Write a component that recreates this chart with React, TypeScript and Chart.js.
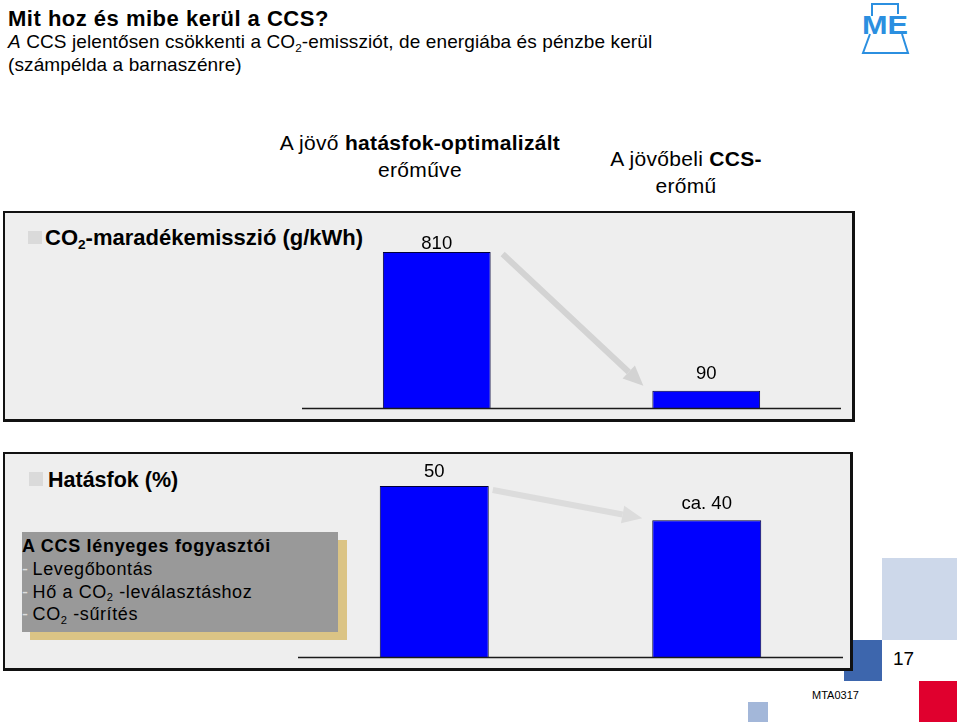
import React, { useEffect, useRef } from "react";
import { Chart, registerables } from "chart.js";

Chart.register(...registerables);

// ---- data ----
const categories = ["A jövő hatásfok-optimalizált erőműve", "A jövőbeli CCS-erőmű"];
const co2Values = [810, 90];
const co2ValueLabels = ["810", "90"];
const efficiencyValues = [50, 40];
const efficiencyValueLabels = ["50", "ca. 40"];

const FONT = "'Liberation Sans', Arial, Helvetica, sans-serif";

type ArrowCfg = { sx: number; sy: number; ex: number; ey: number; color: string };

type BarChartProps = {
  values: number[];
  valueLabels: string[];
  labelOffsets: number[];
  left: number;
  top: number;
  width: number;
  height: number;
  padTop: number;
  padBottom: number;
  arrow: ArrowCfg;
};

function BarChart(p: BarChartProps) {
  const ref = useRef<HTMLCanvasElement>(null);
  useEffect(() => {
    if (!ref.current) return;
    const decor = {
      id: "decor",
      afterDatasetsDraw(chart: any) {
        const ctx = chart.ctx as CanvasRenderingContext2D;
        const meta = chart.getDatasetMeta(0);
        const y0 = chart.scales.y.getPixelForValue(0);
        ctx.save();
        // baseline
        ctx.strokeStyle = "#1a1a1a";
        ctx.lineWidth = 1.6;
        ctx.beginPath();
        ctx.moveTo(chart.chartArea.left, y0 + 0.5);
        ctx.lineTo(chart.chartArea.right, y0 + 0.5);
        ctx.stroke();
        // value labels
        ctx.font = `18.5px ${FONT}`;
        ctx.fillStyle = "#000";
        ctx.textAlign = "center";
        ctx.textBaseline = "alphabetic";
        meta.data.forEach((bar: any, i: number) => {
          ctx.fillText(p.valueLabels[i], bar.x, bar.y - p.labelOffsets[i]);
        });
        // arrow
        const b1 = meta.data[0];
        const b2 = meta.data[1];
        const sx = b1.x + b1.width / 2 + p.arrow.sx;
        const sy = b1.y + p.arrow.sy;
        const ex = b2.x - b2.width / 2 - p.arrow.ex;
        const ey = b2.y - p.arrow.ey;
        const dx = ex - sx;
        const dy = ey - sy;
        const len = Math.hypot(dx, dy);
        const ux = dx / len;
        const uy = dy / len;
        const head = 20;
        const hw = 9;
        const bx = ex - ux * head;
        const by = ey - uy * head;
        ctx.strokeStyle = p.arrow.color;
        ctx.fillStyle = p.arrow.color;
        ctx.lineWidth = 6;
        ctx.lineCap = "butt";
        ctx.beginPath();
        ctx.moveTo(sx, sy);
        ctx.lineTo(bx, by);
        ctx.stroke();
        ctx.beginPath();
        ctx.moveTo(ex, ey);
        ctx.lineTo(bx - uy * hw, by + ux * hw);
        ctx.lineTo(bx + uy * hw, by - ux * hw);
        ctx.closePath();
        ctx.fill();
        ctx.restore();
      },
    };
    const chart = new Chart(ref.current, {
      type: "bar",
      data: {
        labels: categories,
        datasets: [
          {
            data: p.values,
            backgroundColor: "#0000ff",
            borderColor: "#00003a",
            borderWidth: 1,
            barPercentage: 0.4,
            categoryPercentage: 1,
          },
        ],
      },
      options: {
        responsive: false,
        maintainAspectRatio: false,
        animation: false,
        layout: { padding: { top: p.padTop, bottom: p.padBottom, left: 0, right: 0 } },
        plugins: { legend: { display: false }, tooltip: { enabled: false } },
        scales: {
          x: { display: false },
          y: { display: false, min: 0, max: Math.max(...p.values) },
        },
      },
      plugins: [decor],
    });
    return () => chart.destroy();
  }, []);
  return (
    <canvas
      ref={ref}
      width={p.width}
      height={p.height}
      style={{ position: "absolute", left: p.left, top: p.top, width: p.width, height: p.height }}
    />
  );
}

const abs = (s: React.CSSProperties): React.CSSProperties => ({ position: "absolute", whiteSpace: "nowrap", ...s });

const Sub = ({ children, size = "0.62em" }: { children: React.ReactNode; size?: string }) => (
  <span style={{ fontSize: size, position: "relative", top: "0.3em", lineHeight: 0 }}>{children}</span>
);

const Dash = () => <span style={{ color: "#dddddd", marginRight: 4 }}>-</span>;

export default function App() {
  return (
    <div
      style={{
        position: "fixed",
        left: 0,
        top: 0,
        width: 960,
        height: 724,
        background: "#fff",
        fontFamily: FONT,
        color: "#000",
        overflow: "hidden",
      }}
    >
      {/* title */}
      <div style={abs({ left: 8, top: 7, fontSize: 22, lineHeight: "24px", fontWeight: "bold", letterSpacing: 0.5 })}>
        Mit hoz és mibe kerül a CCS?
      </div>
      <div style={abs({ left: 8, top: 30, fontSize: 19, lineHeight: "23.4px", letterSpacing: 0.1 })}>
        <i>A</i> CCS jelentősen csökkenti a CO<Sub>2</Sub>-emissziót, de energiába és pénzbe kerül
        <br />
        (számpélda a barnaszénre)
      </div>

      {/* logo */}
      <svg style={{ position: "absolute", left: 855, top: 0 }} width={60} height={60}>
        <path d="M17 16 L17 4 L43 4 L43 14" fill="none" stroke="#2b8fe0" strokeWidth={2} />
        <path d="M15 34 L8 53 L53 53 L47 34" fill="none" stroke="#2b8fe0" strokeWidth={2} />
        <text
          x={7}
          y={34}
          fontFamily={FONT}
          fontWeight="bold"
          fontSize={26}
          fill="#2b8fe0"
          textLength={46}
          lengthAdjust="spacingAndGlyphs"
        >
          ME
        </text>
      </svg>

      {/* column headers */}
      <div
        style={abs({
          left: 420,
          top: 129,
          fontSize: 21,
          lineHeight: "27px",
          letterSpacing: 0.3,
          textAlign: "center",
          transform: "translateX(-50%)",
        })}
      >
        A jövő <b>hatásfok-optimalizált</b>
        <br />
        erőműve
      </div>
      <div
        style={abs({
          left: 686,
          top: 145,
          fontSize: 21,
          lineHeight: "27px",
          letterSpacing: 0.3,
          textAlign: "center",
          transform: "translateX(-50%)",
        })}
      >
        A jövőbeli <b>CCS-</b>
        <br />
        erőmű
      </div>

      {/* decorative squares (behind panel) */}
      <div style={abs({ left: 882, top: 558, width: 75, height: 82, background: "#cdd8ea" })} />
      <div style={abs({ left: 844, top: 640, width: 38, height: 41, background: "#3d66ad" })} />
      <div style={abs({ left: 919, top: 681, width: 38, height: 41, background: "#e0002e" })} />
      <div style={abs({ left: 748, top: 702, width: 20, height: 20, background: "#a3b7d9" })} />
      <div style={abs({ left: 893, top: 647, fontSize: 19, lineHeight: "24px" })}>17</div>
      <div style={abs({ left: 812, top: 688, fontSize: 11, lineHeight: "14px" })}>MTA0317</div>

      {/* top panel */}
      <div
        style={abs({
          left: 3,
          top: 211,
          width: 852,
          height: 211,
          boxSizing: "border-box",
          background: "#eeeeee",
          borderStyle: "solid",
          borderColor: "#111",
          borderWidth: "2px 3px 3px 2px",
        })}
      />
      <div style={abs({ left: 28, top: 231, width: 14, height: 13, background: "#dadada" })} />
      <div style={abs({ left: 45, top: 226, fontSize: 22, lineHeight: "24px", fontWeight: "bold" })}>
        CO<Sub>2</Sub>-maradékemisszió (g/kWh)
      </div>
      <BarChart
        values={co2Values}
        valueLabels={co2ValueLabels}
        labelOffsets={[3, 12]}
        left={302}
        top={225}
        width={539}
        height={187}
        padTop={27}
        padBottom={4}
        arrow={{ sx: 12, sy: 2, ex: 9, ey: 5, color: "#d3d3d3" }}
      />

      {/* bottom panel */}
      <div
        style={abs({
          left: 3,
          top: 452,
          width: 850,
          height: 219,
          boxSizing: "border-box",
          background: "#eeeeee",
          borderStyle: "solid",
          borderColor: "#111",
          borderWidth: "2px 3px 3px 2px",
        })}
      />
      <div style={abs({ left: 29, top: 472, width: 14, height: 14, background: "#dadada" })} />
      <div style={abs({ left: 48, top: 468, fontSize: 21.5, lineHeight: "24px", fontWeight: "bold" })}>Hatásfok (%)</div>
      <BarChart
        values={efficiencyValues}
        valueLabels={efficiencyValueLabels}
        labelOffsets={[9, 11]}
        left={298}
        top={460}
        width={545}
        height={201}
        padTop={26}
        padBottom={4}
        arrow={{ sx: 4, sy: 4, ex: 10, ey: 2, color: "#dcdcdc" }}
      />

      {/* info box */}
      <div style={abs({ left: 30, top: 540, width: 317, height: 100, background: "#dbc485" })} />
      <div
        style={abs({
          left: 22,
          top: 532,
          width: 316,
          height: 100,
          background: "#999999",
          fontSize: 18,
          lineHeight: "22.8px",
          letterSpacing: 0.6,
          paddingTop: 3,
          boxSizing: "border-box",
        })}
      >
        <div style={{ fontWeight: "bold", letterSpacing: 0.7 }}>A CCS lényeges fogyasztói</div>
        <div>
          <Dash />Levegőbontás
        </div>
        <div>
          <Dash />Hő a CO<Sub>2</Sub> -leválasztáshoz
        </div>
        <div>
          <Dash />CO<Sub>2</Sub> -sűrítés
        </div>
      </div>
    </div>
  );
}
